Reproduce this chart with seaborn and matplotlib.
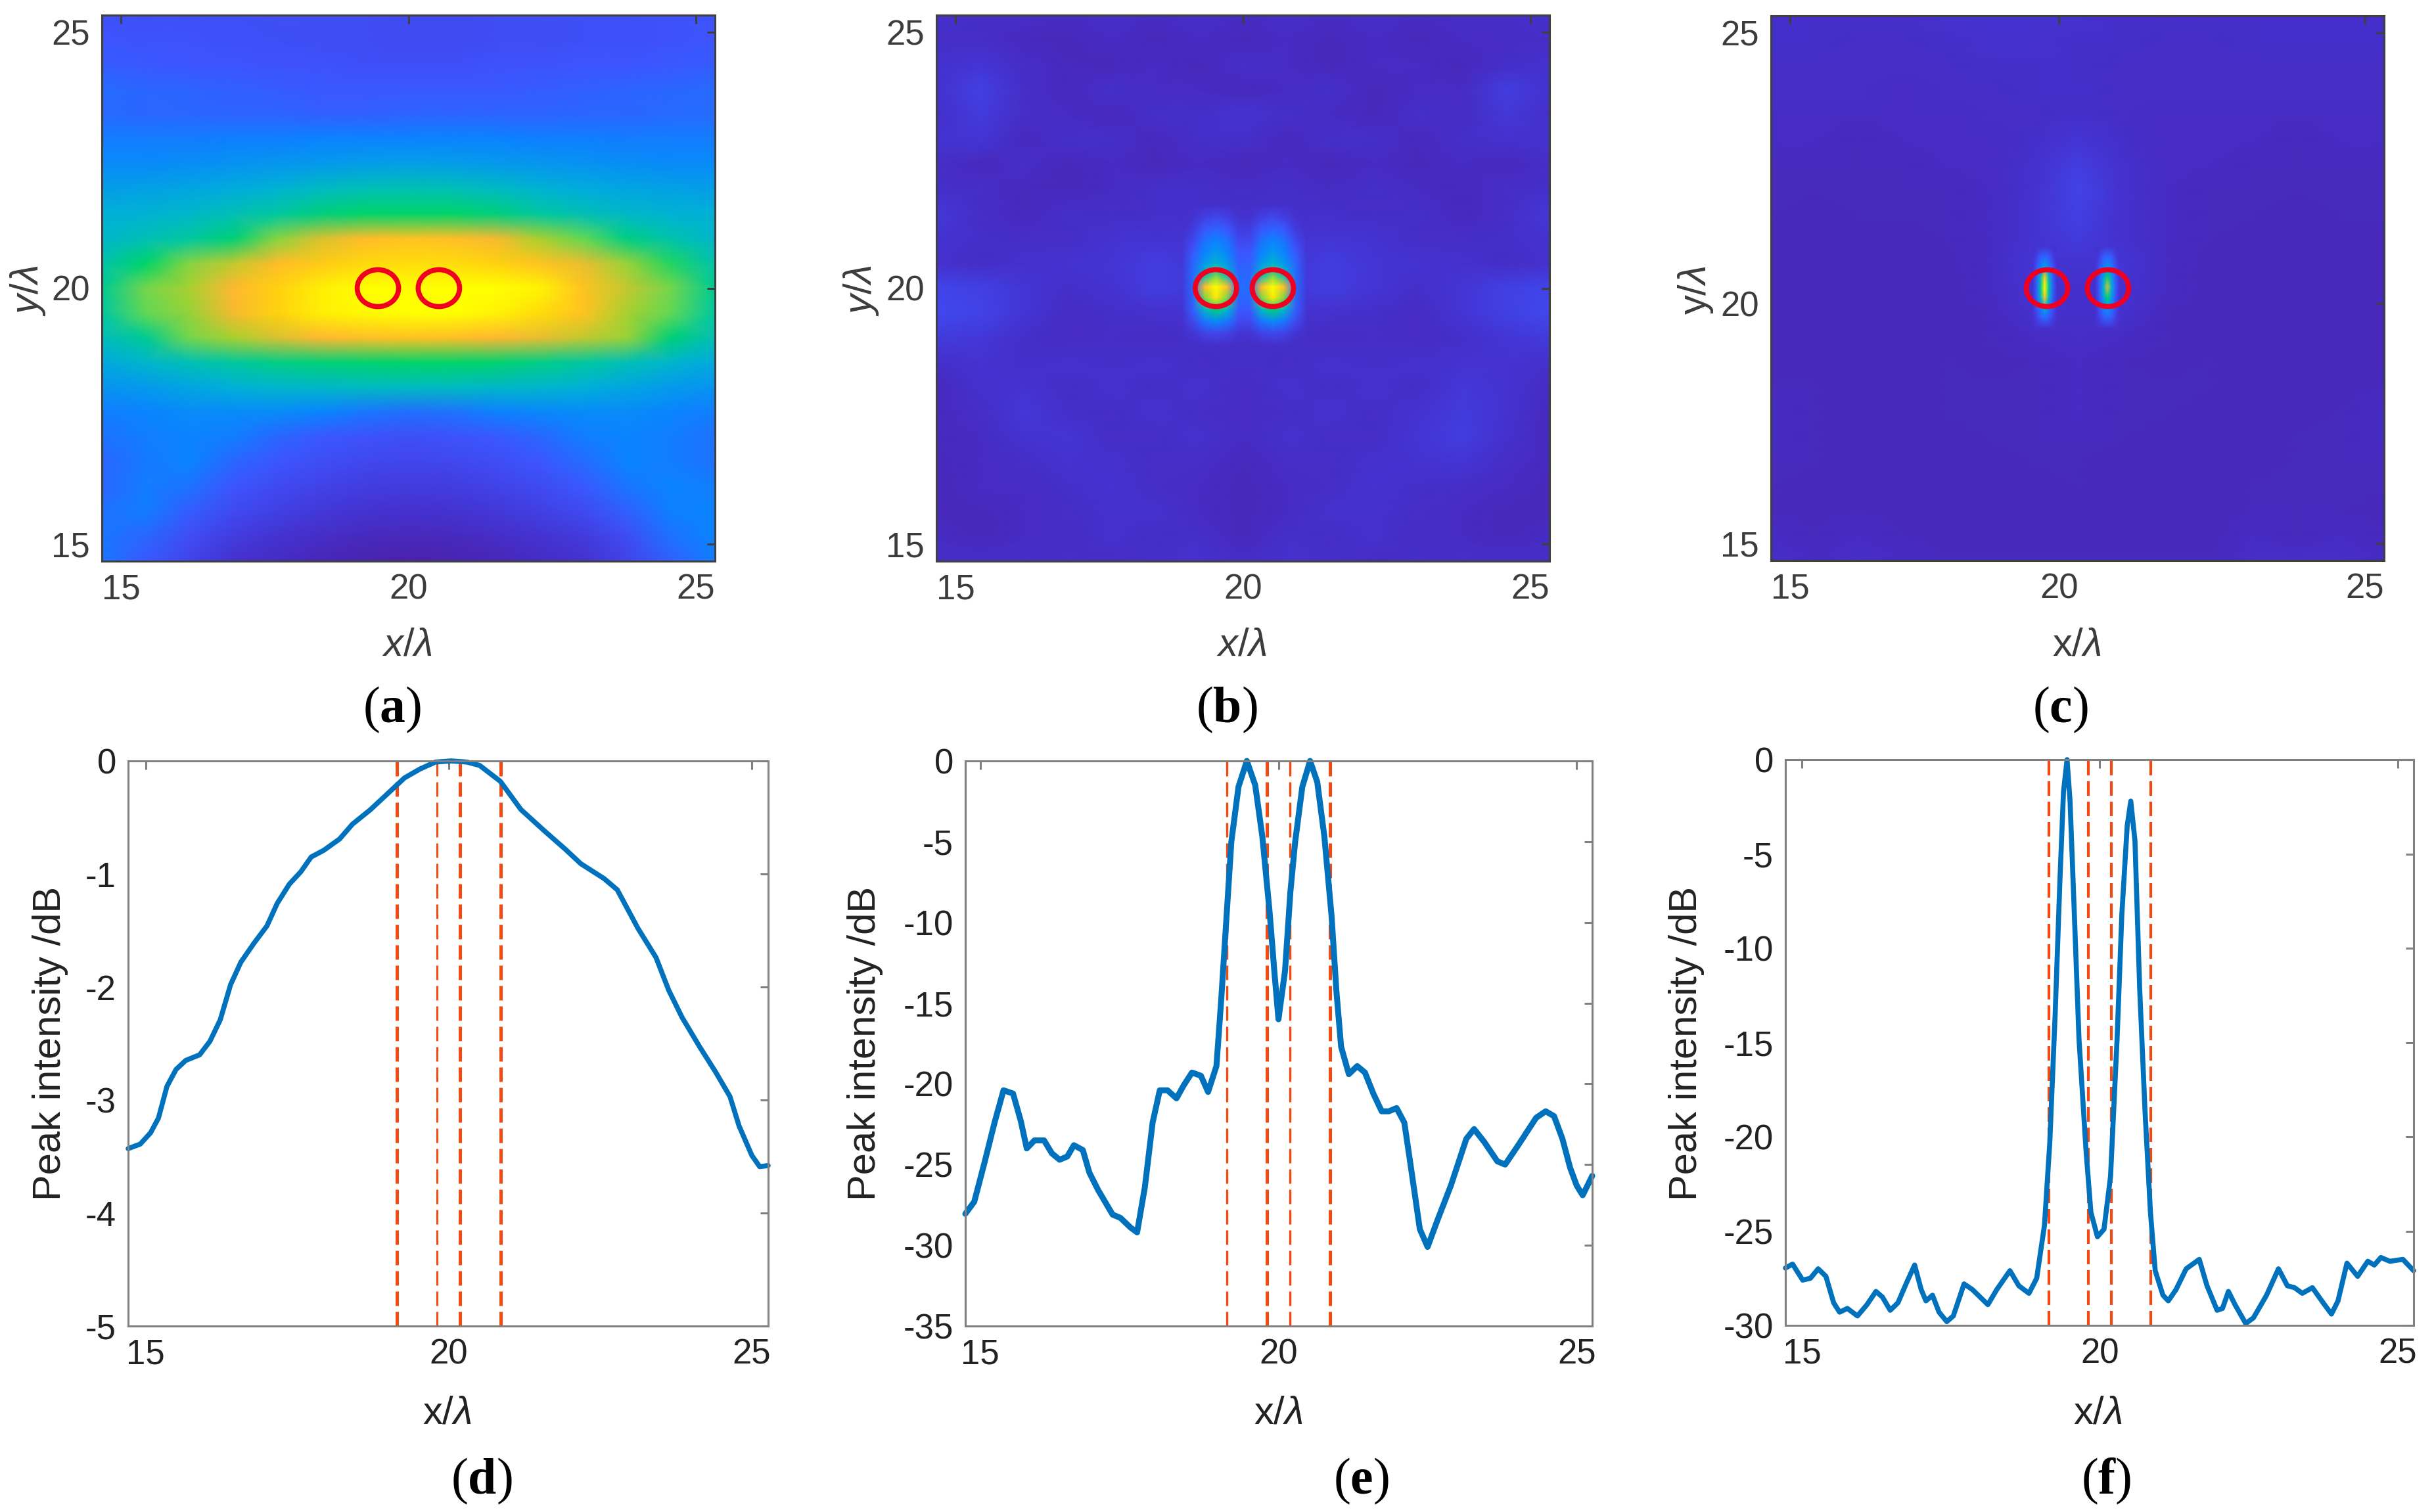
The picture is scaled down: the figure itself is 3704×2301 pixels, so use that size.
import numpy as np
import pandas as pd
import matplotlib
matplotlib.use('Agg')
import matplotlib.pyplot as plt
from matplotlib.colors import LinearSegmentedColormap
from matplotlib.patches import Ellipse
import seaborn as sns

# --- data ---
MAP_A = [
    [23, 23, 23, 23, 22, 22, 22, 21, 21, 22, 22, 23, 23, 24, 24],
    [25, 24, 24, 23, 23, 22, 22, 21, 21, 22, 22, 23, 23, 24, 25],
    [27, 26, 25, 25, 24, 24, 23, 23, 23, 24, 24, 25, 25, 26, 27],
    [31, 30, 29, 28, 27, 26, 26, 26, 26, 26, 27, 28, 29, 30, 31],
    [31, 30, 30, 29, 29, 28, 28, 29, 29, 29, 29, 30, 30, 31, 31],
    [36, 36, 36, 37, 37, 38, 38, 38, 38, 38, 37, 37, 36, 36, 36],
    [40, 40, 41, 42, 43, 44, 45, 46, 45, 44, 43, 42, 41, 40, 40],
    [45, 46, 47, 49, 51, 54, 56, 57, 56, 54, 51, 49, 47, 46, 45],
    [50, 51, 53, 56, 60, 65, 68, 68, 68, 65, 60, 56, 53, 51, 50],
    [52, 56, 60, 66, 74, 82, 86, 88, 87, 84, 78, 70, 64, 58, 52],
    [58, 68, 74, 80, 86, 90, 93, 94, 94, 92, 88, 83, 76, 69, 58],
    [62, 72, 78, 85, 92, 97, 100, 100, 100, 100, 98, 88, 80, 72, 62],
    [60, 70, 76, 84, 92, 97, 99, 100, 100, 98, 94, 88, 78, 70, 60],
    [55, 62, 72, 78, 82, 85, 87, 88, 87, 85, 83, 80, 76, 66, 56],
    [48, 52, 56, 60, 64, 66, 67, 68, 68, 67, 64, 60, 56, 52, 48],
    [42, 44, 47, 50, 52, 53, 54, 54, 54, 53, 52, 50, 47, 44, 42],
    [36, 38, 40, 40, 40, 38, 34, 32, 33, 37, 39, 40, 40, 38, 36],
    [33, 36, 38, 36, 30, 26, 24, 23, 24, 26, 30, 36, 38, 36, 33],
    [30, 35, 38, 30, 25, 22, 20, 19, 20, 22, 25, 31, 38, 36, 33],
    [30, 36, 33, 25, 21, 18, 16, 15, 16, 18, 21, 26, 34, 38, 36],
    [33, 36, 27, 21, 17, 14, 12, 11, 12, 14, 17, 21, 28, 37, 38],
    [34, 30, 22, 16, 12, 9, 7, 6, 7, 9, 12, 15, 22, 33, 38],
    [34, 26, 18, 11, 8, 5, 3, 2, 3, 5, 8, 11, 18, 28, 36],
]
MAP_B = [
    [11, 9, 9, 8, 10, 8, 10, 8, 10, 8, 10, 8, 9, 9, 11],
    [9, 9, 7, 6, 8, 6, 8, 6, 8, 6, 8, 6, 8, 8, 9],
    [11, 13, 9, 7, 6, 8, 6, 10, 8, 6, 8, 8, 6, 10, 11],
    [11, 17, 9, 7, 10, 8, 8, 6, 8, 10, 6, 8, 8, 16, 12],
    [10, 15, 9, 8, 6, 10, 10, 12, 10, 8, 6, 10, 8, 14, 10],
    [12, 13, 7, 10, 10, 7, 10, 10, 7, 10, 10, 7, 10, 11, 12],
    [9, 7, 9, 6, 8, 6, 8, 6, 8, 6, 8, 6, 8, 7, 9],
    [10, 9, 7, 6, 8, 10, 10, 9, 10, 8, 10, 8, 7, 9, 10],
    [14, 9, 7, 10, 9, 10, 10, 10, 10, 10, 9, 10, 7, 9, 14],
    [12, 10, 9, 9, 12, 12, 12, 10, 12, 13, 12, 9, 9, 10, 12],
    [11, 9, 11, 12, 13, 16, 13, 13, 13, 16, 13, 12, 11, 9, 11],
    [19, 17, 13, 10, 12, 16, 14, 14, 14, 16, 13, 10, 13, 17, 19],
    [20, 18, 13, 8, 10, 11, 12, 12, 12, 11, 10, 8, 13, 17, 20],
    [15, 14, 10, 8, 9, 8, 10, 10, 10, 8, 9, 8, 10, 13, 15],
    [10, 12, 10, 11, 10, 11, 9, 10, 9, 11, 10, 11, 12, 12, 11],
    [7, 11, 12, 9, 11, 9, 11, 8, 11, 9, 11, 9, 14, 12, 8],
    [7, 9, 14, 10, 9, 11, 9, 8, 9, 11, 9, 12, 15, 12, 7],
    [7, 8, 12, 13, 9, 9, 11, 8, 11, 9, 9, 13, 16, 11, 7],
    [6, 8, 9, 12, 11, 9, 9, 7, 9, 9, 11, 12, 13, 9, 7],
    [6, 8, 8, 10, 12, 9, 8, 6, 8, 9, 12, 10, 9, 8, 6],
    [6, 6, 8, 9, 11, 11, 8, 6, 8, 11, 11, 9, 8, 6, 6],
    [8, 6, 8, 8, 11, 9, 10, 6, 10, 9, 11, 8, 8, 6, 8],
    [10, 9, 10, 9, 8, 10, 11, 9, 11, 10, 8, 10, 9, 10, 9],
]
# centre of (b), finer than the rest of the map
PEAKS_B = [
    [10, 10, 11, 12, 11, 10, 10, 11, 12, 11, 10, 10],
    [10, 12, 17, 20, 17, 12, 12, 17, 20, 17, 12, 10],
    [11, 15, 26, 29, 26, 16, 16, 26, 29, 26, 15, 11],
    [12, 20, 33, 38, 33, 20, 20, 33, 38, 33, 20, 12],
    [13, 26, 38, 44, 38, 25, 25, 38, 44, 38, 26, 13],
    [14, 30, 44, 52, 44, 28, 28, 44, 52, 44, 30, 14],
    [14, 31, 54, 72, 54, 30, 30, 54, 72, 54, 31, 14],
    [14, 31, 86, 100, 86, 32, 32, 86, 100, 86, 31, 14],
    [13, 30, 72, 96, 72, 30, 30, 72, 96, 72, 30, 13],
    [12, 28, 52, 66, 52, 26, 26, 52, 66, 52, 28, 12],
    [11, 20, 34, 40, 34, 20, 20, 34, 40, 34, 20, 11],
    [10, 13, 18, 20, 18, 13, 13, 18, 20, 18, 13, 10],
    [9, 9, 10, 11, 10, 9, 9, 10, 11, 10, 9, 9],
]
PEAKS_B_X = (18.936, 21.114)
PEAKS_B_Y = (18.9, 21.6)
MAP_C = [
    [10, 10, 10, 10, 11, 12, 12, 11, 10, 10, 10, 10, 10, 10, 10],
    [10, 10, 9, 9, 10, 11, 11, 10, 10, 9, 9, 10, 10, 10, 10],
    [9, 9, 9, 9, 9, 10, 10, 10, 9, 9, 9, 9, 9, 9, 9],
    [9, 9, 9, 8, 9, 9, 10, 10, 9, 9, 9, 9, 9, 9, 9],
    [8, 8, 8, 8, 8, 9, 9, 10, 9, 8, 8, 8, 8, 8, 8],
    [8, 8, 7, 8, 8, 8, 10, 13, 10, 8, 8, 8, 7, 8, 8],
    [7, 7, 7, 7, 8, 8, 11, 16, 11, 8, 8, 7, 7, 7, 7],
    [7, 7, 7, 7, 7, 8, 11, 18, 11, 8, 7, 7, 7, 7, 7],
    [7, 6, 7, 7, 7, 8, 12, 17, 11, 8, 7, 7, 6, 7, 7],
    [6, 6, 6, 6, 7, 8, 12, 15, 11, 8, 7, 6, 6, 6, 6],
    [6, 6, 6, 6, 6, 8, 13, 12, 13, 8, 6, 6, 6, 6, 6],
    [6, 6, 6, 6, 6, 8, 12, 10, 12, 8, 6, 6, 6, 6, 6],
    [6, 6, 6, 6, 6, 7, 11, 10, 11, 7, 6, 6, 6, 6, 6],
    [6, 6, 6, 6, 6, 7, 8, 9, 8, 7, 6, 6, 6, 6, 6],
    [6, 6, 6, 6, 7, 6, 7, 8, 7, 6, 7, 6, 6, 6, 6],
    [7, 7, 6, 6, 7, 7, 7, 8, 7, 7, 7, 6, 6, 6, 7],
    [8, 7, 6, 6, 7, 7, 7, 8, 7, 7, 6, 6, 6, 7, 8],
    [8, 7, 6, 6, 6, 7, 7, 7, 7, 6, 6, 6, 7, 7, 8],
    [7, 7, 6, 6, 6, 6, 7, 7, 6, 6, 6, 6, 7, 7, 7],
    [7, 6, 6, 6, 6, 6, 6, 7, 6, 6, 6, 7, 7, 7, 7],
    [7, 6, 7, 6, 6, 6, 6, 6, 6, 6, 6, 7, 7, 7, 6],
    [8, 7, 8, 7, 6, 6, 6, 6, 6, 6, 6, 8, 7, 8, 7],
    [9, 8, 9, 8, 7, 7, 7, 7, 7, 7, 7, 9, 9, 9, 8],
]
PEAK_C1 = [
    [10, 11, 11, 12, 11, 11, 10],
    [11, 17, 26, 30, 26, 17, 11],
    [11, 24, 38, 46, 38, 24, 11],
    [11, 28, 54, 92, 54, 28, 11],
    [11, 30, 62, 100, 62, 30, 11],
    [11, 28, 54, 92, 54, 28, 11],
    [11, 24, 38, 50, 38, 24, 11],
    [11, 17, 26, 32, 26, 17, 11],
    [10, 11, 11, 12, 11, 11, 10],
]
PEAK_C2 = [
    [10, 11, 11, 12, 11, 11, 10],
    [11, 17, 26, 30, 26, 17, 11],
    [11, 22, 36, 42, 36, 22, 11],
    [11, 26, 46, 68, 46, 26, 11],
    [11, 28, 52, 82, 52, 28, 11],
    [11, 26, 46, 68, 46, 26, 11],
    [11, 22, 36, 44, 36, 22, 11],
    [11, 17, 26, 30, 26, 17, 11],
    [10, 11, 11, 12, 11, 11, 10],
]
PEAK_C1_X = (19.22, 19.64)
PEAK_C2_X = (20.31, 20.73)
PEAK_C_Y = (19.22, 20.82)

CIRCLES_X_A = [19.47, 20.53]
CIRCLES_X_B = [19.53, 20.52]
CIRCLES_X_C = [19.47, 20.53]
CIRCLES_Y = [20.0, 20.0]

D_X = [14.71, 14.91, 15.08, 15.21, 15.35, 15.50, 15.66, 15.89, 16.06, 16.23, 16.40, 16.57, 16.79, 17.00,
       17.17, 17.37, 17.56, 17.73, 17.94, 18.20, 18.41, 18.71, 19.01, 19.27, 19.53, 19.78, 20.04, 20.30,
       20.51, 20.85, 21.19, 21.58, 21.92, 22.18, 22.56, 22.78, 23.12, 23.42, 23.63, 23.85, 24.14, 24.40,
       24.64, 24.79, 25.00, 25.13, 25.27]
D_Y = [-3.43, -3.39, -3.29, -3.16, -2.88, -2.73, -2.65, -2.60, -2.48, -2.29, -1.98, -1.78, -1.61, -1.46,
       -1.26, -1.09, -0.98, -0.85, -0.79, -0.69, -0.56, -0.43, -0.28, -0.15, -0.07, -0.01, 0.0, -0.01,
       -0.04, -0.18, -0.43, -0.62, -0.78, -0.91, -1.04, -1.14, -1.48, -1.74, -2.03, -2.27, -2.53, -2.75,
       -2.97, -3.23, -3.49, -3.59, -3.58]
E_X = [14.75, 14.90, 15.07, 15.24, 15.39, 15.55, 15.68, 15.78, 15.91, 16.07, 16.20, 16.33, 16.46, 16.57,
       16.72, 16.83, 16.98, 17.22, 17.35, 17.52, 17.63, 17.76, 17.89, 18.01, 18.14, 18.29, 18.41, 18.55,
       18.70, 18.82, 18.96, 19.04, 19.13, 19.21, 19.33, 19.47, 19.61, 19.73, 19.85, 19.93, 20.00, 20.11,
       20.20, 20.28, 20.40, 20.53, 20.65, 20.77, 20.89, 20.97, 21.05, 21.18, 21.32, 21.45, 21.59, 21.73,
       21.85, 21.98, 22.11, 22.21, 22.37, 22.50, 22.67, 22.89, 23.15, 23.28, 23.45, 23.67, 23.80, 24.02,
       24.32, 24.48, 24.62, 24.76, 24.89, 25.00, 25.10, 25.26]
E_Y = [-28.05, -27.3, -24.9, -22.4, -20.4, -20.6, -22.3, -24.0, -23.5, -23.5, -24.3, -24.7, -24.5, -23.8,
       -24.1, -25.5, -26.6, -28.1, -28.3, -28.9, -29.2, -26.4, -22.4, -20.4, -20.4, -20.9, -20.1, -19.3,
       -19.5, -20.5, -18.9, -14.8, -9.6, -5.0, -1.6, 0.0, -1.5, -4.7, -9.3, -13.0, -16.0, -13.0,
       -8.1, -5.0, -1.6, 0.0, -1.3, -4.7, -9.6, -14.2, -17.7, -19.4, -18.9, -19.3, -20.6, -21.7,
       -21.7, -21.5, -22.4, -24.9, -29.0, -30.1, -28.4, -26.3, -23.4, -22.8, -23.6, -24.8, -25.0, -23.8,
       -22.1, -21.7, -22.0, -23.4, -25.2, -26.3, -26.9, -25.7]
F_X = [14.72, 14.84, 15.01, 15.14, 15.27, 15.40, 15.53, 15.63, 15.76, 15.93, 16.09, 16.24, 16.35, 16.48,
       16.61, 16.76, 16.89, 17.00, 17.08, 17.19, 17.30, 17.43, 17.54, 17.72, 17.86, 18.12, 18.27, 18.49,
       18.64, 18.81, 18.94, 19.07, 19.16, 19.25, 19.33, 19.39, 19.45, 19.50, 19.57, 19.65, 19.77, 19.85,
       19.96, 20.07, 20.18, 20.29, 20.37, 20.46, 20.52, 20.59, 20.67, 20.76, 20.85, 20.93, 21.06, 21.15,
       21.28, 21.45, 21.67, 21.80, 21.97, 22.06, 22.16, 22.27, 22.45, 22.58, 22.80, 23.00, 23.15, 23.27,
       23.40, 23.57, 23.75, 23.89, 24.00, 24.15, 24.33, 24.50, 24.61, 24.72, 24.87, 25.09, 25.27]
F_Y = [-26.96, -26.75, -27.6, -27.5, -27.0, -27.4, -28.8, -29.3, -29.1, -29.5, -28.9, -28.2, -28.5, -29.2,
       -28.8, -27.7, -26.8, -28.1, -28.7, -28.4, -29.3, -29.8, -29.5, -27.8, -28.1, -28.9, -28.1, -27.1,
       -27.9, -28.3, -27.5, -24.7, -20.3, -13.5, -6.4, -1.7, 0.0, -2.2, -8.0, -14.8, -20.8, -24.0,
       -25.3, -24.9, -22.1, -14.8, -8.2, -3.5, -2.2, -4.3, -12.2, -18.7, -24.0, -27.1, -28.4, -28.7,
       -28.1, -27.0, -26.5, -27.9, -29.2, -29.1, -28.2, -28.9, -29.9, -29.6, -28.4, -27.0, -27.9, -28.0,
       -28.3, -28.0, -28.8, -29.4, -28.7, -26.7, -27.4, -26.6, -26.8, -26.4, -26.6, -26.5, -27.1]

SLITS = [19.14, 19.81, 20.19, 20.86]
X_TICKS = [15, 20, 25]
X_TICK_LABELS = ['15', '20', '25']

W, H = 3704, 2301
DEEP = '#404040'
BLUE = '#0072bd'
ORANGE = '#f24a12'
RED = '#f00020'

cmap = LinearSegmentedColormap.from_list('field', [
    (0.00, '#4b1fa6'), (0.12, '#4433d2'), (0.25, '#3d55ff'), (0.38, '#0a84ff'),
    (0.50, '#00b0d8'), (0.60, '#00c8a0'), (0.685, '#00d468'), (0.70, '#5fd856'),
    (0.78, '#a8d030'), (0.85, '#ffb830'), (0.92, '#ffd010'), (1.00, '#ffff00'),
])


def rect(left, top, right, bottom):
    return [left / W, 1 - bottom / H, (right - left) / W, (bottom - top) / H]


def field(fig, box, values):
    ax = fig.add_axes(box)
    sns.heatmap(np.array(values, dtype=float), ax=ax, cmap=cmap, vmin=0, vmax=100, cbar=False,
                xticklabels=False, yticklabels=False, shading='gouraud')
    ax.set_xlim(0, len(values[0]) - 1)
    ax.set_ylim(len(values) - 1, 0)
    ax.axis('off')
    return ax


def inset_box(span_x, span_y, top, left, width, height, lim=(14.67, 25.33)):
    x0 = left + (span_x[0] - lim[0]) / (lim[1] - lim[0]) * width
    x1 = left + (span_x[1] - lim[0]) / (lim[1] - lim[0]) * width
    y0 = top + (lim[1] - span_y[1]) / (lim[1] - lim[0]) * height
    y1 = top + (lim[1] - span_y[0]) / (lim[1] - lim[0]) * height
    return rect(x0, y0, x1, y1)


def dress(ax, color, label_color, lw=2.2):
    for side in ax.spines.values():
        side.set_visible(True)
        side.set_color(color)
        side.set_linewidth(lw)
    ax.tick_params(direction='in', top=True, right=True, length=9, width=lw, color=color,
                   labelcolor=label_color, labelsize=38, pad=13)


def place_labels(ax, xlab, ylab, xpos, ypos, color):
    ax.set_xlabel(xlab, fontsize=43, color=color)
    ax.set_ylabel(ylab, fontsize=43, color=color)
    ax.xaxis.set_label_coords(xpos[0] / W, 1 - xpos[1] / H, transform=ax.figure.transFigure)
    ax.yaxis.set_label_coords(ypos[0] / W, 1 - ypos[1] / H, transform=ax.figure.transFigure)
    ax.xaxis.label.set_verticalalignment('center')
    ax.yaxis.label.set_verticalalignment('center')


sns.set_theme(style='white')
plt.rcParams['font.family'] = ['Liberation Sans', 'DejaVu Sans']
plt.rcParams['mathtext.fontset'] = 'custom'
plt.rcParams['mathtext.rm'] = 'Liberation Sans'
plt.rcParams['mathtext.it'] = 'Liberation Sans:italic'
plt.rcParams['mathtext.bf'] = 'Liberation Serif:bold'
plt.rcParams['mathtext.tt'] = 'Liberation Serif'

fig = plt.figure(figsize=(W / 100, H / 100), dpi=100, facecolor='white')

# --- top row: intensity maps ---
top_panels = [
    dict(box=(155, 23, 1088, 854), data=MAP_A, circles=CIRCLES_X_A, xt=[15, 20, 25], yt=[15, 20, 25],
         xlabel_at=(620, 982), ylabel_at=(42, 442), tag='a', tag_at=(597, 1080)),
    dict(box=(1425, 23, 2358, 854), data=MAP_B, circles=CIRCLES_X_B, xt=[15, 20, 25], yt=[15, 20, 25],
         xlabel_at=(1890, 982), ylabel_at=(1311, 442), tag='b', tag_at=(1867, 1080)),
    dict(box=(2695, 24, 3628, 853), data=MAP_C, circles=CIRCLES_X_C, xt=[15, 19.68, 25], yt=[15, 19.7, 25],
         xlabel_at=(3160, 982), ylabel_at=(2581, 442), tag='c', tag_at=(3135, 1080)),
]
for p in top_panels:
    left, top, right, bottom = p['box']
    field(fig, rect(*p['box']), p['data'])
    w, h = right - left, bottom - top
    if p['tag'] == 'b':
        field(fig, inset_box(PEAKS_B_X, PEAKS_B_Y, top, left, w, h), PEAKS_B)
    if p['tag'] == 'c':
        field(fig, inset_box(PEAK_C1_X, PEAK_C_Y, top, left, w, h), PEAK_C1)
        field(fig, inset_box(PEAK_C2_X, PEAK_C_Y, top, left, w, h), PEAK_C2)
    over = fig.add_axes(rect(*p['box']), facecolor='none')
    for cx, cy in zip(p['circles'], CIRCLES_Y):
        over.add_patch(Ellipse((cx, cy), 0.72, 0.72, fill=False, edgecolor=RED, linewidth=5.5, zorder=5))
    over.set_xlim(14.67, 25.33)
    over.set_ylim(14.67, 25.33)
    over.set_xticks(p['xt'], X_TICK_LABELS)
    over.set_yticks(p['yt'], X_TICK_LABELS)
    dress(over, DEEP, '#3c3c3c')
    xlab = '$x/\\lambda$' if p['tag'] != 'c' else 'x/$\\lambda$'
    ylab = '$y/\\lambda$' if p['tag'] != 'c' else 'y/$\\lambda$'
    place_labels(over, xlab, ylab, p['xlabel_at'], p['ylabel_at'], '#3c3c3c')
    fig.text(p['tag_at'][0] / W, 1 - p['tag_at'][1] / H,
             '$\\mathtt{(}\\mathbf{%s}\\mathtt{)}$' % p['tag'], fontsize=56, color='black',
             ha='center', va='center')

# --- bottom row: peak intensity cuts ---
bottom_panels = [
    dict(box=(195, 1158, 1169, 2018), x=D_X, y=D_Y, xlim=(14.71, 25.27), ylim=(-5, 0),
         yt=[-5, -4, -3, -2, -1, 0], lw=5.5, dash_lw=[3.6, 2.2, 3.6, 3.6],
         xlabel_at=(680, 2151), ylabel_at=(77, 1588), tag='d', tag_at=(733, 2254)),
    dict(box=(1469, 1158, 2423, 2018), x=E_X, y=E_Y, xlim=(14.75, 25.26), ylim=(-35, 0),
         yt=[-35, -30, -25, -20, -15, -10, -5, 0], lw=6.5, dash_lw=[2.4, 3.6, 2.4, 3.6],
         xlabel_at=(1945, 2151), ylabel_at=(1317, 1588), tag='e', tag_at=(2071, 2254)),
    dict(box=(2717, 1156, 3673, 2017), x=F_X, y=F_Y, xlim=(14.72, 25.27), ylim=(-30, 0),
         yt=[-30, -25, -20, -15, -10, -5, 0], lw=5.5, dash_lw=[3.0, 3.0, 3.0, 3.0],
         xlabel_at=(3192, 2151), ylabel_at=(2566, 1588), tag='f', tag_at=(3205, 2254)),
]
for p in bottom_panels:
    ax = fig.add_axes(rect(*p['box']), facecolor='white')
    for pos, dlw in zip(SLITS, p['dash_lw']):
        ax.axvline(pos, color=ORANGE, lw=dlw, dashes=(22 / dlw * 0.72, 9 / dlw * 0.72), zorder=1)
    line = pd.DataFrame({'x': p['x'], 'y': p['y']})
    sns.lineplot(data=line, x='x', y='y', ax=ax, color=BLUE, linewidth=p['lw'], sort=False,
                 zorder=2, clip_on=False, solid_joinstyle='round')
    ax.set_xlim(*p['xlim'])
    ax.set_ylim(*p['ylim'])
    ax.set_xticks(X_TICKS, X_TICK_LABELS)
    ax.set_yticks(p['yt'], [str(v) for v in p['yt']])
    dress(ax, '#808080', '#222222')
    place_labels(ax, 'x/$\\lambda$', 'Peak intensity /dB', p['xlabel_at'], p['ylabel_at'], '#222222')
    fig.text(p['tag_at'][0] / W, 1 - p['tag_at'][1] / H,
             '$\\mathtt{(}\\mathbf{%s}\\mathtt{)}$' % p['tag'], fontsize=56, color='black',
             ha='center', va='center')

fig.savefig('out.png', dpi=100, facecolor='white')
plt.close(fig)
